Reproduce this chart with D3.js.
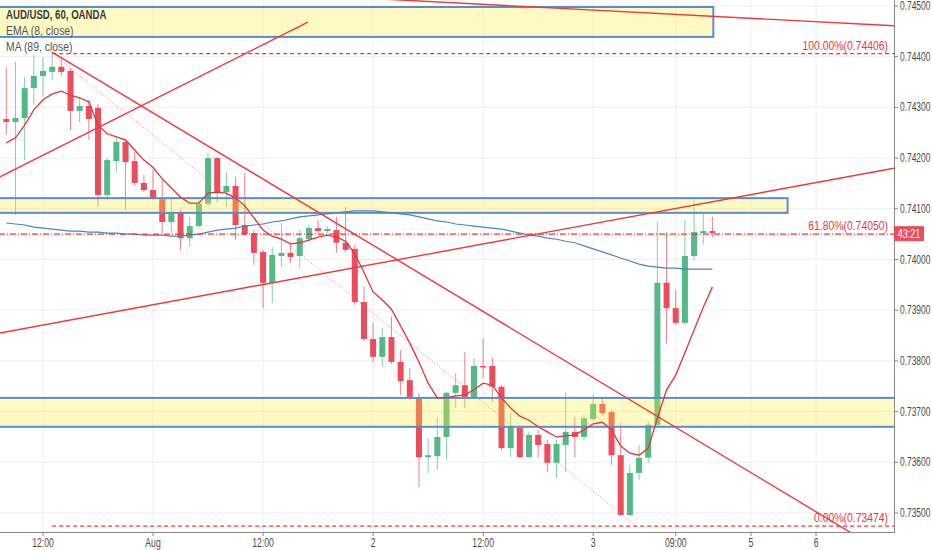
<!DOCTYPE html>
<html>
<head>
<meta charset="utf-8">
<script src="https://d3js.org/d3.v7.min.js"></script>
<style>
    body { margin: 0; background: #fff; }
    svg text { font-family: "Liberation Sans", Arial, sans-serif; }
</style>
</head>
<body>
<svg id="chart" width="932" height="550"></svg>
<script>
// hourly AUD/USD bars, first bar index = -4 (08:00 Jul 31), bar 0 = 12:00
var firstBar = -4;
var opens  = [0.74277,0.74271,0.74279,0.74338,0.74362,0.74370,0.74380,0.74372,0.74293,0.74303,0.74299,0.74127,0.74194,0.74232,0.74194,0.74151,0.74137,0.74119,0.74074,0.74092,0.74042,0.74066,0.74110,0.74200,0.74133,0.74145,0.74068,0.74052,0.74015,0.73954,0.74007,0.74013,0.74007,0.74040,0.74062,0.74056,0.74058,0.74033,0.74021,0.73916,0.73843,0.73808,0.73847,0.73798,0.73762,0.73727,0.73610,0.73612,0.73650,0.73737,0.73752,0.73729,0.73790,0.73790,0.73749,0.73628,0.73668,0.73610,0.73654,0.73636,0.73599,0.73634,0.73660,0.73650,0.73685,0.73715,0.73699,0.73614,0.73496,0.73579,0.73609,0.73674,0.73954,0.73904,0.73875,0.74007,0.74052,0.74056];
var highs  = [0.74378,0.74390,0.74360,0.74403,0.74399,0.74406,0.74397,0.74378,0.74321,0.74315,0.74307,0.74200,0.74242,0.74236,0.74212,0.74167,0.74177,0.74157,0.74121,0.74098,0.74084,0.74117,0.74210,0.74202,0.74173,0.74163,0.74171,0.74058,0.74019,0.74025,0.74072,0.74033,0.74058,0.74068,0.74078,0.74066,0.74084,0.74104,0.74029,0.73946,0.73875,0.73865,0.73887,0.73822,0.73786,0.73737,0.73648,0.73689,0.73739,0.73776,0.73818,0.73806,0.73845,0.73806,0.73752,0.73699,0.73670,0.73660,0.73664,0.73644,0.73644,0.73739,0.73689,0.73693,0.73733,0.73729,0.73703,0.73678,0.73595,0.73634,0.73680,0.74074,0.74054,0.73940,0.74078,0.74117,0.74092,0.74084];
var lows   = [0.74246,0.74088,0.74196,0.74305,0.74321,0.74354,0.74362,0.74255,0.74271,0.74236,0.74104,0.74117,0.74173,0.74098,0.74145,0.74133,0.74117,0.74052,0.74052,0.74019,0.74025,0.74062,0.74106,0.74113,0.74104,0.74038,0.74046,0.73989,0.73904,0.73914,0.73985,0.73993,0.73983,0.74035,0.74052,0.74052,0.74013,0.74015,0.73910,0.73839,0.73798,0.73788,0.73794,0.73733,0.73723,0.73551,0.73579,0.73585,0.73605,0.73707,0.73707,0.73727,0.73766,0.73719,0.73624,0.73610,0.73609,0.73609,0.73609,0.73581,0.73569,0.73581,0.73609,0.73644,0.73683,0.73693,0.73595,0.73494,0.73494,0.73565,0.73599,0.73670,0.73835,0.73871,0.73871,0.73999,0.74029,0.74044];
var closes = [0.74271,0.74279,0.74338,0.74362,0.74372,0.74380,0.74370,0.74293,0.74303,0.74277,0.74127,0.74196,0.74232,0.74192,0.74151,0.74137,0.74121,0.74074,0.74092,0.74042,0.74066,0.74110,0.74200,0.74133,0.74145,0.74068,0.74050,0.74013,0.73954,0.74009,0.74013,0.74005,0.74042,0.74062,0.74056,0.74060,0.74033,0.74019,0.73916,0.73843,0.73808,0.73847,0.73798,0.73760,0.73729,0.73610,0.73614,0.73650,0.73737,0.73752,0.73729,0.73790,0.73788,0.73749,0.73628,0.73670,0.73610,0.73654,0.73634,0.73599,0.73636,0.73660,0.73650,0.73687,0.73715,0.73697,0.73614,0.73496,0.73579,0.73609,0.73674,0.73954,0.73904,0.73875,0.74007,0.74054,0.74056,0.74052];
var ema8   = [0.74230,0.74240,0.74265,0.74295,0.74315,0.74326,0.74332,0.74324,0.74319,0.74311,0.74265,0.74248,0.74242,0.74236,0.74216,0.74196,0.74182,0.74159,0.74141,0.74123,0.74111,0.74111,0.74131,0.74133,0.74131,0.74121,0.74106,0.74082,0.74058,0.74046,0.74040,0.74031,0.74033,0.74038,0.74044,0.74048,0.74044,0.74036,0.74011,0.73975,0.73936,0.73920,0.73902,0.73869,0.73835,0.73798,0.73756,0.73727,0.73727,0.73731,0.73733,0.73743,0.73756,0.73752,0.73727,0.73707,0.73691,0.73683,0.73670,0.73660,0.73650,0.73652,0.73654,0.73664,0.73676,0.73679,0.73664,0.73632,0.73618,0.73614,0.73628,0.73687,0.73743,0.73772,0.73816,0.73861,0.73906,0.73946];
var ma89   = [0.74072,0.74070,0.74068,0.74064,0.74062,0.74060,0.74058,0.74056,0.74056,0.74054,0.74054,0.74052,0.74052,0.74050,0.74050,0.74048,0.74048,0.74048,0.74046,0.74046,0.74048,0.74050,0.74054,0.74058,0.74060,0.74062,0.74066,0.74068,0.74070,0.74074,0.74076,0.74080,0.74084,0.74086,0.74088,0.74090,0.74092,0.74094,0.74096,0.74096,0.74096,0.74094,0.74092,0.74090,0.74088,0.74084,0.74080,0.74076,0.74074,0.74070,0.74068,0.74066,0.74064,0.74062,0.74060,0.74056,0.74052,0.74048,0.74046,0.74042,0.74040,0.74036,0.74033,0.74027,0.74021,0.74015,0.74009,0.74003,0.73997,0.73991,0.73987,0.73985,0.73983,0.73983,0.73981,0.73981,0.73981,0.73981];

var priceTicks = [0.745, 0.744, 0.743, 0.742, 0.741, 0.740, 0.739, 0.738, 0.737, 0.736, 0.735];
var timeTickBars = [0, 12, 24, 36, 48, 60, 69, 77.2, 84.3];
var timeTickLabels = ["12:00", "Aug", "12:00", "2", "12:00", "3", "09:00", "5", "6"];

// drawings, in [bar, price]
var trendLines = [
    [[33.5, 0.74517], [92.8, 0.74461]],
    [[-4.7, 0.74163], [28.9, 0.74468]],
    [[-4.7, 0.73855], [92.8, 0.74180]],
    [[0.98, 0.74409], [95, 0.73386]]
];
var zoneBars = [[-6, 73.1], [-6, 81.2], [-6, 100]];
var zonePrices = [[0.74498, 0.74439], [0.74121, 0.74092], [0.73727, 0.73670]];
var fibHigh = [1, 0.74406];
var fibLow = [64.7, 0.73474];
var fibLevels = [1, 0.618, 0];
var countdown = "43:21";

var svg = d3.select("#chart");
var plotW = 894, plotH = 532;
var x = d3.scaleLinear().domain([-43 / 9.17, 851 / 9.17]).range([0, plotW]);
var y = d3.scaleLinear().domain([0.735, 0.745]).range([513, 6]);

var red = "#eb4d5c", green = "#53b987", lineRed = "#f0393c";

// squeezed text, like the screenshot's narrow font
function place(px, py, sx) {
    return "translate(" + px + "," + py + ") scale(" + sx + ",1)";
}

svg.append("defs").append("clipPath").attr("id", "plotClip")
    .append("rect").attr("width", plotW).attr("height", plotH);

var grid = svg.append("g");
grid.selectAll(".hg").data(priceTicks).enter().append("line")
    .attr("x1", 0).attr("x2", plotW)
    .attr("y1", function(d) { return y(d); }).attr("y2", function(d) { return y(d); })
    .attr("stroke", "#eceef2").attr("stroke-width", 1);
grid.selectAll(".vg").data(timeTickBars).enter().append("line")
    .attr("x1", function(d) { return x(d); }).attr("x2", function(d) { return x(d); })
    .attr("y1", 0).attr("y2", plotH)
    .attr("stroke", "#eceef2").attr("stroke-width", 1);

var plot = svg.append("g").attr("clip-path", "url(#plotClip)");

var bars = opens.map(function(o, i) {
    return { i: firstBar + i, o: o, h: highs[i], l: lows[i], c: closes[i] };
});

plot.selectAll(".wick").data(bars).enter().append("line")
    .attr("x1", function(d) { return x(d.i); }).attr("x2", function(d) { return x(d.i); })
    .attr("y1", function(d) { return y(d.h); }).attr("y2", function(d) { return y(d.l); })
    .attr("stroke", function(d) { return d.c >= d.o ? green : red; })
    .attr("stroke-opacity", 0.7).attr("stroke-width", 1);

plot.selectAll(".body").data(bars).enter().append("rect")
    .attr("x", function(d) { return x(d.i) - 3; })
    .attr("width", 6)
    .attr("y", function(d) { return y(Math.max(d.o, d.c)); })
    .attr("height", function(d) { return Math.max(1.5, Math.abs(y(d.o) - y(d.c))); })
    .attr("fill", function(d) { return d.c >= d.o ? green : red; });

// zones
zoneBars.forEach(function(b, k) {
    var p = zonePrices[k];
    plot.append("rect")
        .attr("x", x(b[0])).attr("width", x(b[1]) - x(b[0]))
        .attr("y", y(p[0])).attr("height", y(p[1]) - y(p[0]))
        .attr("fill", "rgba(255,235,59,0.3)")
        .attr("stroke", "#5b8ec8").attr("stroke-width", 2);
});

var line = d3.line().x(function(d) { return x(d[0]); }).y(function(d) { return y(d[1]); });

plot.append("path")
    .attr("d", line(ma89.map(function(v, i) { return [firstBar + i, v]; })))
    .attr("fill", "none").attr("stroke", "#4a86c0").attr("stroke-width", 1.2);
plot.append("path")
    .attr("d", line(ema8.map(function(v, i) { return [firstBar + i, v]; })))
    .attr("fill", "none").attr("stroke", "#e8343a").attr("stroke-width", 1.3);

trendLines.forEach(function(t) {
    plot.append("path").attr("d", line(t))
        .attr("fill", "none").attr("stroke", lineRed).attr("stroke-width", 1.4);
});

// fibonacci retracement
plot.append("path").attr("d", line([fibHigh, fibLow]))
    .attr("fill", "none").attr("stroke", "#f07a7e").attr("stroke-width", 1)
    .attr("stroke-dasharray", "1,2");
fibLevels.forEach(function(lv) {
    var price = fibLow[1] + lv * (fibHigh[1] - fibLow[1]);
    var startBar = lv === 0.618 ? -6 : fibHigh[0];
    plot.append("line")
        .attr("x1", x(startBar)).attr("x2", plotW)
        .attr("y1", y(price)).attr("y2", y(price))
        .attr("stroke", lineRed).attr("stroke-width", 1.2)
        .attr("stroke-dasharray", lv === 0.618 ? "6,2,1,2" : "4,3");
    plot.append("text")
        .attr("transform", place(plotW - 6, y(price) - 4, 0.8))
        .attr("text-anchor", "end").attr("font-size", 13)
        .attr("fill", lineRed)
        .text((lv * 100).toFixed(2) + "%(" + price.toFixed(5) + ")");
});

// legend
var legend = svg.append("g");
legend.append("text").attr("transform", place(6, 19, 0.74)).attr("font-size", 13).attr("font-weight", "bold")
    .attr("fill", "#3a3a3a").text("AUD/USD, 60, OANDA");
legend.append("text").attr("transform", place(6, 35, 0.8)).attr("font-size", 13)
    .attr("fill", "#555").text("EMA (8, close)");
legend.append("text").attr("transform", place(6, 51, 0.8)).attr("font-size", 13)
    .attr("fill", "#555").text("MA (89, close)");

// axes
svg.append("line").attr("x1", plotW + 0.5).attr("x2", plotW + 0.5).attr("y1", 0).attr("y2", plotH)
    .attr("stroke", "#888").attr("stroke-width", 1);
svg.append("line").attr("x1", 0).attr("x2", plotW + 1).attr("y1", plotH + 0.5).attr("y2", plotH + 0.5)
    .attr("stroke", "#888").attr("stroke-width", 1);

var yAxis = svg.append("g");
yAxis.selectAll(".yt").data(priceTicks).enter().append("line")
    .attr("x1", plotW).attr("x2", plotW + 4)
    .attr("y1", function(d) { return y(d); }).attr("y2", function(d) { return y(d); })
    .attr("stroke", "#888");
yAxis.selectAll(".yl").data(priceTicks).enter().append("text")
    .attr("transform", function(d) { return place(plotW + 6, y(d) + 4, 0.7); })
    .attr("font-size", 12).attr("fill", "#4a4a4a")
    .text(function(d) { return d.toFixed(5); });

var xAxis = svg.append("g");
xAxis.selectAll(".xt").data(timeTickBars).enter().append("line")
    .attr("x1", function(d) { return x(d); }).attr("x2", function(d) { return x(d); })
    .attr("y1", plotH).attr("y2", plotH + 4)
    .attr("stroke", "#888");
xAxis.selectAll(".xl").data(timeTickBars).enter().append("text")
    .attr("transform", function(d) { return place(x(d), plotH + 15, 0.72); })
    .attr("text-anchor", "middle").attr("font-size", 12).attr("fill", "#4a4a4a")
    .text(function(d, i) { return timeTickLabels[i]; });

// countdown tag
var tagY = y(0.7405);
svg.append("rect").attr("x", plotW).attr("y", tagY - 8).attr("width", 30).attr("height", 15)
    .attr("fill", red);
svg.append("text").attr("transform", place(plotW + 15, tagY + 4, 0.75)).attr("text-anchor", "middle")
    .attr("font-size", 12).attr("fill", "#fff").text(countdown);
</script>
</body>
</html>
